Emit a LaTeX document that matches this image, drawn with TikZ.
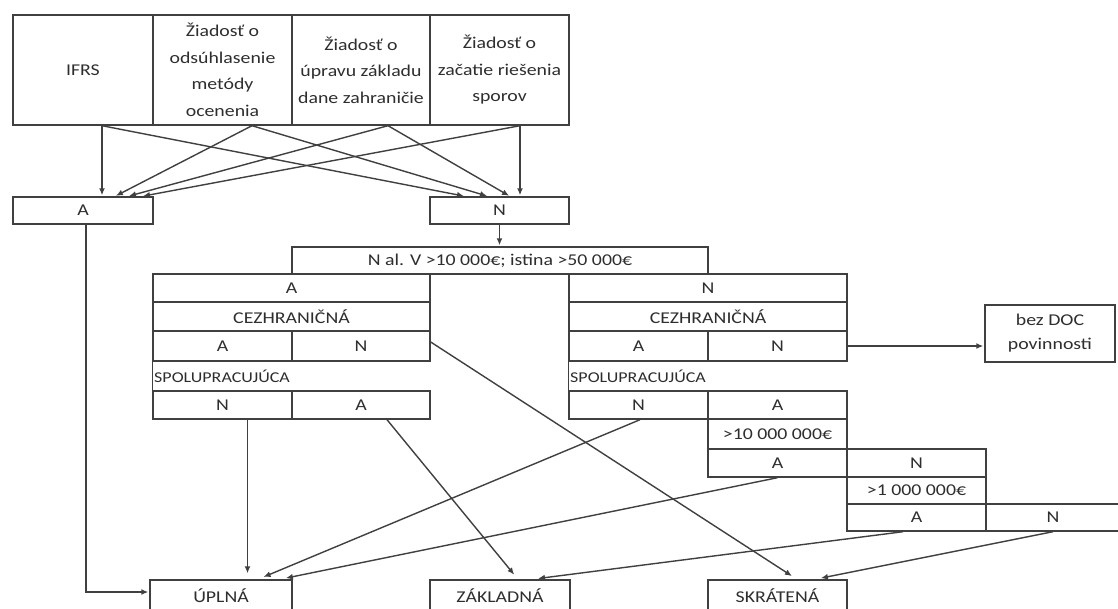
\documentclass[tikz,border=0pt]{standalone}
\usepackage{fontspec}
\setmainfont{Carlito}[FakeStretch=1.2]
\usetikzlibrary{arrows.meta}
\definecolor{linegray}{gray}{0.25}
\definecolor{textgray}{gray}{0.18}

\begin{document}
\begin{tikzpicture}[x=1pt, y=-1pt,
	every node/.style={font=\fontsize{16.5}{26.5}\selectfont, text=textgray},
	cellbox/.style 2 args={draw=linegray, line width=1.4pt, inner sep=0pt, minimum width=#1, minimum height=#2, align=center},
	conn/.style={draw=linegray, line width=1.4pt, shorten >=1pt, -{Latex[length=7pt,width=6pt]}},
	endconn/.style={conn, shorten >=6pt}]
		\path[use as bounding box, fill=white] (0,0) rectangle (1118,608);
		
		% requests
		\node [cellbox={140pt}{110pt}] (ifrs) at (83, 70) {IFRS};
		\node [cellbox={139pt}{110pt}] (odsuhl) at (222.5, 70) {Žiadosť o\\odsúhlasenie\\metódy\\ocenenia};
		\node [cellbox={138pt}{110pt}] (uprava) at (361, 70) {Žiadosť o\\úpravu základu\\dane zahraničie};
		\node [cellbox={139pt}{110pt}] (spory) at (499.5, 70) {Žiadosť o\\začatie riešenia\\sporov};
		
		\node [cellbox={140pt}{27pt}] (A) at (83, 210.5) {A};
		\node [cellbox={139pt}{27pt}] (N) at (499.5, 210.5) {N};
		
		\draw [conn] ([xshift=19pt]ifrs.south) -- ([xshift=19pt]A.north);
		\draw [conn] ([xshift=19pt]ifrs.south) -- ([xshift=-34.5pt]N.north);
		\draw [conn] ([xshift=29.5pt]odsuhl.south) -- ([xshift=32pt]A.north);
		\draw [conn] ([xshift=29.5pt]odsuhl.south) -- ([xshift=-11.5pt]N.north);
		\draw [conn] ([xshift=27pt]uprava.south) -- ([xshift=45pt]A.north);
		\draw [conn] ([xshift=27pt]uprava.south) -- ([xshift=10.5pt]N.north);
		\draw [conn] ([xshift=20.5pt]spory.south) -- ([xshift=59pt]A.north);
		\draw [conn] ([xshift=20.5pt]spory.south) -- ([xshift=20.5pt]N.north);
		
		\node [cellbox={416pt}{27pt}] (nalv) at (500, 260.5) {N al. V >10 000€; istina >50 000€};
		\draw [conn] (N.south) -- (N.south |- nalv.north);
		
		% left block
		\node [cellbox={277pt}{28pt}] (lA) at (291.5, 288) {A};
		\node [cellbox={277pt}{29pt}] (lCez) at (291.5, 316.5) {CEZHRANIČNÁ};
		\node [cellbox={139pt}{30pt}] (lCA) at (222.5, 346) {A};
		\node [cellbox={138pt}{30pt}] (lCN) at (361, 346) {N};
		\node [anchor=west, inner sep=1pt, font=\fontsize{15}{17}\selectfont] (lSpolu) at (153, 376) {SPOLUPRACUJÚCA};
		\node [cellbox={139pt}{28pt}] (lSN) at (222.5, 405) {N};
		\node [cellbox={138pt}{28pt}] (lSA) at (361, 405) {A};
		\draw [linegray, line width=1.4pt] (lCA.south west) -- (lSN.north west);
		
		% right block
		\node [cellbox={278pt}{28pt}] (rN) at (708, 288) {N};
		\node [cellbox={278pt}{29pt}] (rCez) at (708, 316.5) {CEZHRANIČNÁ};
		\node [cellbox={139pt}{30pt}] (rCA) at (638.5, 346) {A};
		\node [cellbox={139pt}{30pt}] (rCN) at (777.5, 346) {N};
		\node [anchor=west, inner sep=1pt, font=\fontsize{15}{17}\selectfont] (rSpolu) at (569, 376) {SPOLUPRACUJÚCA};
		\node [cellbox={139pt}{28pt}] (rSN) at (638.5, 405) {N};
		\node [cellbox={139pt}{28pt}] (rSA) at (777.5, 405) {A};
		\draw [linegray, line width=1.4pt] (rCA.south west) -- (rSN.north west);
		\node [cellbox={139pt}{30pt}] (rVal1) at (777.5, 434) {>10 000 000€};
		\node [cellbox={139pt}{28pt}] (rV1A) at (777.5, 463) {A};
		\node [cellbox={139pt}{28pt}] (rV1N) at (916.5, 463) {N};
		\node [cellbox={139pt}{27pt}] (rVal2) at (916.5, 490.5) {>1 000 000€};
		\node [cellbox={139pt}{27pt}] (rV2A) at (916.5, 517.5) {A};
		\node [cellbox={134pt}{27pt}] (rV2N) at (1053, 517.5) {N};
		
		\node [cellbox={130pt}{57pt}, font=\fontsize{16.5}{24}\selectfont] (bezdoc) at (1050, 333.5) {bez DOC\\povinnosti};
		
		% results
		\node [cellbox={142pt}{32pt}] (uplna) at (221, 596) {ÚPLNÁ};
		\node [cellbox={140pt}{32pt}] (zakladna) at (500, 596) {ZÁKLADNÁ};
		\node [cellbox={139pt}{32pt}] (skratena) at (777.5, 596) {SKRÁTENÁ};
		
		\draw [conn] ([xshift=3pt]A.south) |- ([yshift=4pt]uplna.west);
		\draw [endconn] ([xshift=25pt]lSN.south) -- ([xshift=25pt]lSN.south |- uplna.north);
		\draw [endconn] ([xshift=26pt]lSA.south) -- ([xshift=18pt]zakladna.north);
		\draw [endconn] ([yshift=4pt]lCN.east) -- ([xshift=19.5pt]skratena.north);
		\draw [conn] (rCN.east) -- (rCN.east -| bezdoc.west);
		\draw [endconn] ([xshift=1.5pt]rSN.south) -- ([xshift=37pt]uplna.north);
		\draw [endconn] (rV1A.south) -- ([xshift=59pt]uplna.north);
		\draw [endconn] ([xshift=-13.5pt]rV2A.south) -- ([xshift=32pt]zakladna.north);
		\draw [endconn] (rV2N.south) -- ([xshift=37.5pt]skratena.north);
		
		\end{tikzpicture}
\end{document}
